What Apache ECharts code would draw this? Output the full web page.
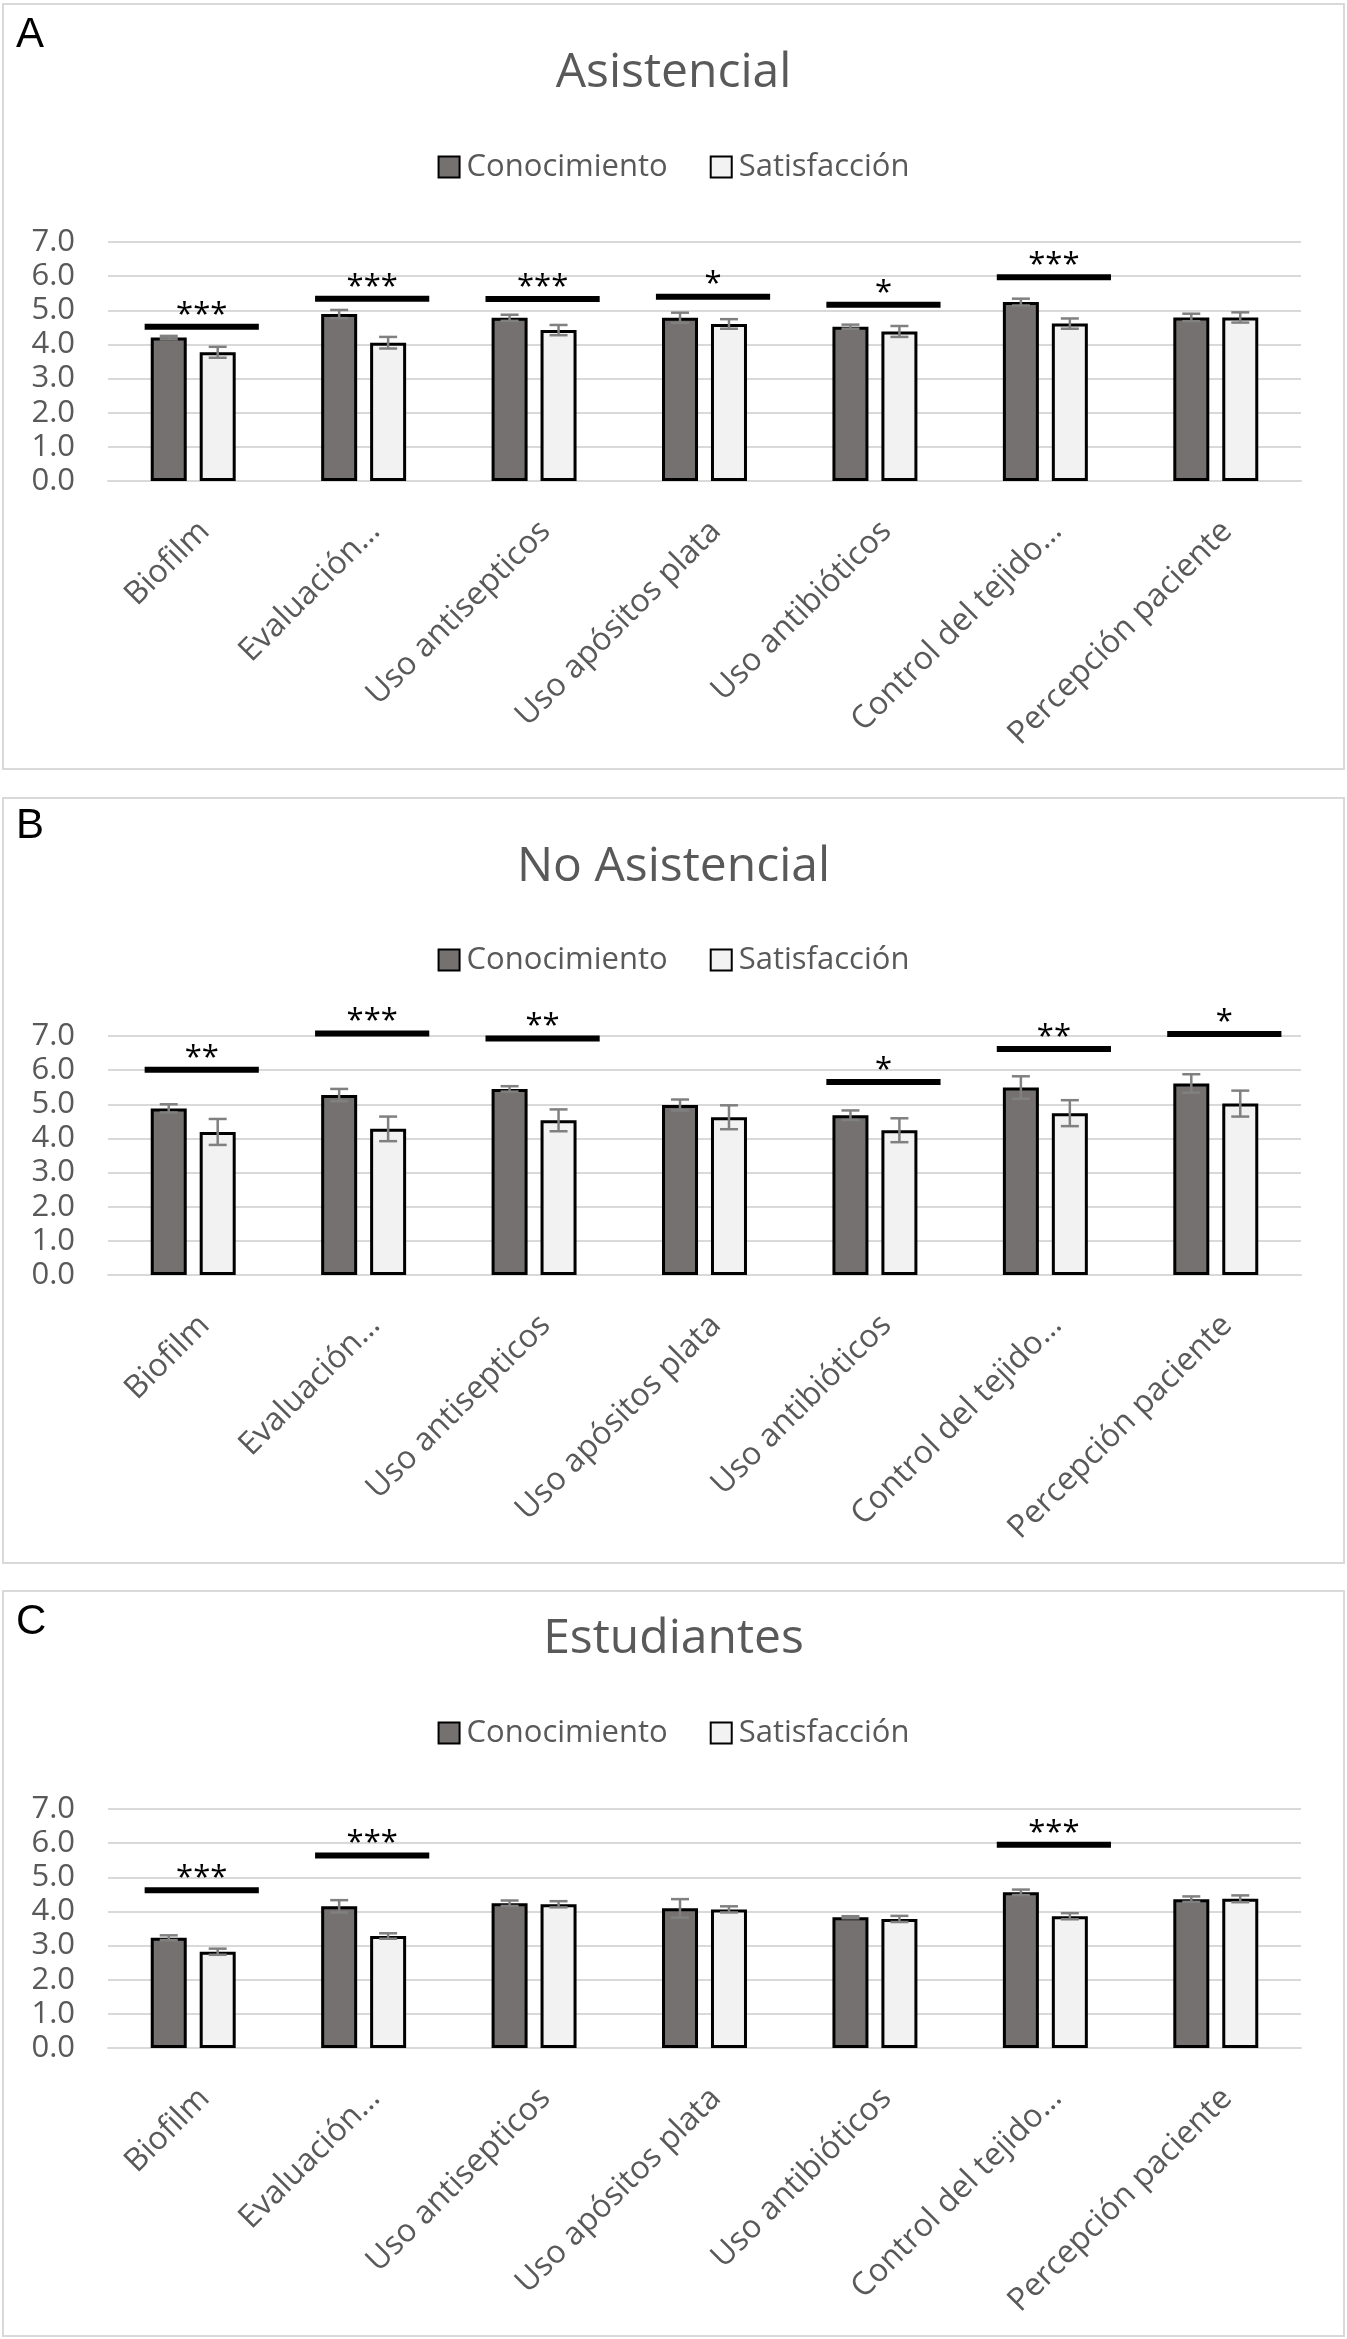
<!DOCTYPE html>
<html><head><meta charset="utf-8">
<script src="https://cdn.jsdelivr.net/npm/echarts@6/dist/echarts.min.js"></script>
<style>
html,body{margin:0;padding:0;background:#fff;width:1347px;height:2339px;overflow:hidden;}
.chart{position:absolute;}
.frame{position:absolute;border:2px solid #d9d9d9;box-sizing:border-box;pointer-events:none;}
</style></head><body>
<div id="cA" class="chart" style="left:3px;top:4px;width:1341px;height:765px"></div>
<div id="cB" class="chart" style="left:3px;top:798px;width:1341px;height:765px"></div>
<div id="cC" class="chart" style="left:3px;top:1591px;width:1341px;height:745px"></div>
<div class="frame" style="left:2px;top:3px;width:1343px;height:767px"></div>
<div class="frame" style="left:2px;top:797px;width:1343px;height:767px"></div>
<div class="frame" style="left:2px;top:1590px;width:1343px;height:747px"></div>
<script>
// ---------- DATA ----------
const categories = ['Biofilm','Evaluación…','Uso antisepticos','Uso apósitos plata','Uso antibióticos','Control del tejido…','Percepción paciente'];
const seriesNames = ['Conocimiento','Satisfacción'];
const yTickLabels = ['0.0','1.0','2.0','3.0','4.0','5.0','6.0','7.0'];
const panelTitles = ['Asistencial','No Asistencial','Estudiantes'];
const panelLetters = ['A','B','C'];

// A: Asistencial
const asistConoc    = [4.20, 4.89, 4.78, 4.78, 4.52, 5.24, 4.79];
const asistConocErr = [0.05, 0.12, 0.09, 0.15, 0.06, 0.10, 0.11];
const asistSatis    = [3.77, 4.05, 4.42, 4.60, 4.38, 4.61, 4.79];
const asistSatisErr = [0.16, 0.17, 0.15, 0.14, 0.16, 0.15, 0.15];
const asistSigLabel = ['***','***','***','*','*','***',''];
const asistSigLevel = [4.52, 5.34, 5.33, 5.40, 5.16, 5.97, null];

// B: No Asistencial
const noAsistConoc    = [4.88, 5.27, 5.45, 4.98, 4.68, 5.49, 5.61];
const noAsistConocErr = [0.12, 0.18, 0.08, 0.16, 0.14, 0.33, 0.27];
const noAsistSatis    = [4.19, 4.28, 4.53, 4.62, 4.24, 4.74, 5.02];
const noAsistSatisErr = [0.38, 0.36, 0.32, 0.35, 0.35, 0.38, 0.38];
const noAsistSigLabel = ['**','***','**','','*','**','*'];
const noAsistSigLevel = [6.01, 7.07, 6.93, null, 5.65, 6.62, 7.06];

// C: Estudiantes
const estConoc    = [3.23, 4.15, 4.24, 4.09, 3.83, 4.56, 4.36];
const estConocErr = [0.07, 0.18, 0.08, 0.27, 0.03, 0.08, 0.08];
const estSatis    = [2.82, 3.28, 4.21, 4.06, 3.78, 3.86, 4.37];
const estSatisErr = [0.09, 0.08, 0.09, 0.09, 0.09, 0.09, 0.10];
const estSigLabel = ['***','***','','','','***',''];
const estSigLevel = [4.62, 5.64, null, null, null, 5.95, null];

// ---------- STYLE / LAYOUT ----------
const FONT = '"Open Sans"';
const GRAY_TXT = '#595959';
const BAR_W = 36, BAR_GAP = 0.36;
const BAR_OFF = (BAR_W + BAR_W * BAR_GAP) / 2;

const panels = [
  {el:'cA', title:panelTitles[0], letter:panelLetters[0], conoc:asistConoc, conocErr:asistConocErr, satis:asistSatis, satisErr:asistSatisErr, sigLabel:asistSigLabel, sigLevel:asistSigLevel,
   letterY:31, titleY:69, legendY:163, gridTop:238, gridBottom:288},
  {el:'cB', title:panelTitles[1], letter:panelLetters[1], conoc:noAsistConoc, conocErr:noAsistConocErr, satis:noAsistSatis, satisErr:noAsistSatisErr, sigLabel:noAsistSigLabel, sigLevel:noAsistSigLevel,
   letterY:28, titleY:69, legendY:162, gridTop:238, gridBottom:288},
  {el:'cC', title:panelTitles[2], letter:panelLetters[2], conoc:estConoc, conocErr:estConocErr, satis:estSatis, satisErr:estSatisErr, sigLabel:estSigLabel, sigLevel:estSigLevel,
   letterY:31, titleY:48, legendY:142, gridTop:218, gridBottom:288}
];

function errRender(sign){
  return function(params, api){
    const idx = api.value(0), v = api.value(1), e = api.value(2);
    const top = api.coord([idx, v + e]);
    const bot = api.coord([idx, v - e]);
    const x = top[0] + sign * BAR_OFF;
    const cap = 9;
    const st = {stroke:'#808080', lineWidth:2.5};
    return {type:'group', children:[
      {type:'line', shape:{x1:x, y1:top[1], x2:x, y2:bot[1]}, style:st},
      {type:'line', shape:{x1:x-cap, y1:top[1], x2:x+cap, y2:top[1]}, style:st},
      {type:'line', shape:{x1:x-cap, y1:bot[1], x2:x+cap, y2:bot[1]}, style:st}
    ]};
  };
}

function sigRender(labels){
  return function(params, api){
    const idx = api.value(0), y = api.value(1);
    const band = api.size([1, 0])[0];
    const p = api.coord([idx, y]);
    const cx = p[0] + band * 0.05;
    const half = band * 0.335;
    return {type:'group', children:[
      {type:'line', shape:{x1:cx-half, y1:p[1], x2:cx+half, y2:p[1]}, style:{stroke:'#000', lineWidth:6}},
      {type:'text', x:cx, y:p[1]-12, style:{text:labels[params.dataIndex], font:'31px ' + FONT, fill:'#000', align:'center', verticalAlign:'middle'}}
    ]};
  };
}

panels.forEach(function(pn){
  const dom = document.getElementById(pn.el);
  const chart = echarts.init(dom, null, {renderer:'canvas'});
  const W = dom.clientWidth;
  const errC = pn.conoc.map((v,i)=>[i, v, pn.conocErr[i]]);
  const errS = pn.satis.map((v,i)=>[i, v, pn.satisErr[i]]);
  const sigData = [], sigLabels = [];
  pn.sigLevel.forEach((h,i)=>{ if (h != null && pn.sigLabel[i]) { sigData.push([i, h]); sigLabels.push(pn.sigLabel[i]); } });

  chart.setOption({
    animation:false,
    textStyle:{fontFamily:FONT},
    graphic:[
      {type:'text', x:13, y:pn.letterY, style:{text:pn.letter, font:'42px "Liberation Sans"', fill:'#000', align:'left', verticalAlign:'middle'}},
      {type:'text', x:W/2, y:pn.titleY, style:{text:pn.title, font:'48px ' + FONT, fill:GRAY_TXT, align:'center', verticalAlign:'middle'}}
    ],
    legend:{
      data:seriesNames, left:'center', top:pn.legendY - 16, padding:0,
      itemWidth:21, itemHeight:21, itemGap:42, icon:'rect',
      itemStyle:{borderColor:'#000', borderWidth:2},
      textStyle:{color:GRAY_TXT, fontSize:31, fontFamily:FONT, lineHeight:32, padding:[0,0,0,2]}
    },
    grid:{left:105, right:43, top:pn.gridTop, bottom:pn.gridBottom, containLabel:false},
    xAxis:{
      type:'category', data:categories,
      axisLine:{show:true, lineStyle:{color:'#d9d9d9', width:2}},
      axisTick:{show:false},
      axisLabel:{interval:0, rotate:45, align:'right', verticalAlign:'top', margin:34, color:GRAY_TXT, fontSize:32, fontFamily:FONT}
    },
    yAxis:{
      type:'value', min:0, max:7, interval:1,
      axisLine:{show:false}, axisTick:{show:false},
      axisLabel:{margin:33, color:GRAY_TXT, fontSize:31, fontFamily:FONT, formatter:function(v, i){ return yTickLabels[i]; }},
      splitLine:{lineStyle:{color:'#d9d9d9', width:2}}
    },
    series:[
      {name:seriesNames[0], type:'bar', data:pn.conoc, barWidth:BAR_W, barGap:(BAR_GAP*100)+'%',
       itemStyle:{color:'#767171', borderColor:'#000', borderWidth:3}},
      {name:seriesNames[1], type:'bar', data:pn.satis, barWidth:BAR_W,
       itemStyle:{color:'#f2f2f2', borderColor:'#000', borderWidth:3}},
      {type:'custom', renderItem:errRender(-1), data:errC, z:5, silent:true, encode:{x:0, y:1}},
      {type:'custom', renderItem:errRender(1), data:errS, z:5, silent:true, encode:{x:0, y:1}},
      {type:'custom', renderItem:sigRender(sigLabels), data:sigData, z:6, silent:true, clip:false, encode:{x:0, y:1}}
    ]
  });
});
</script>
</body></html>
